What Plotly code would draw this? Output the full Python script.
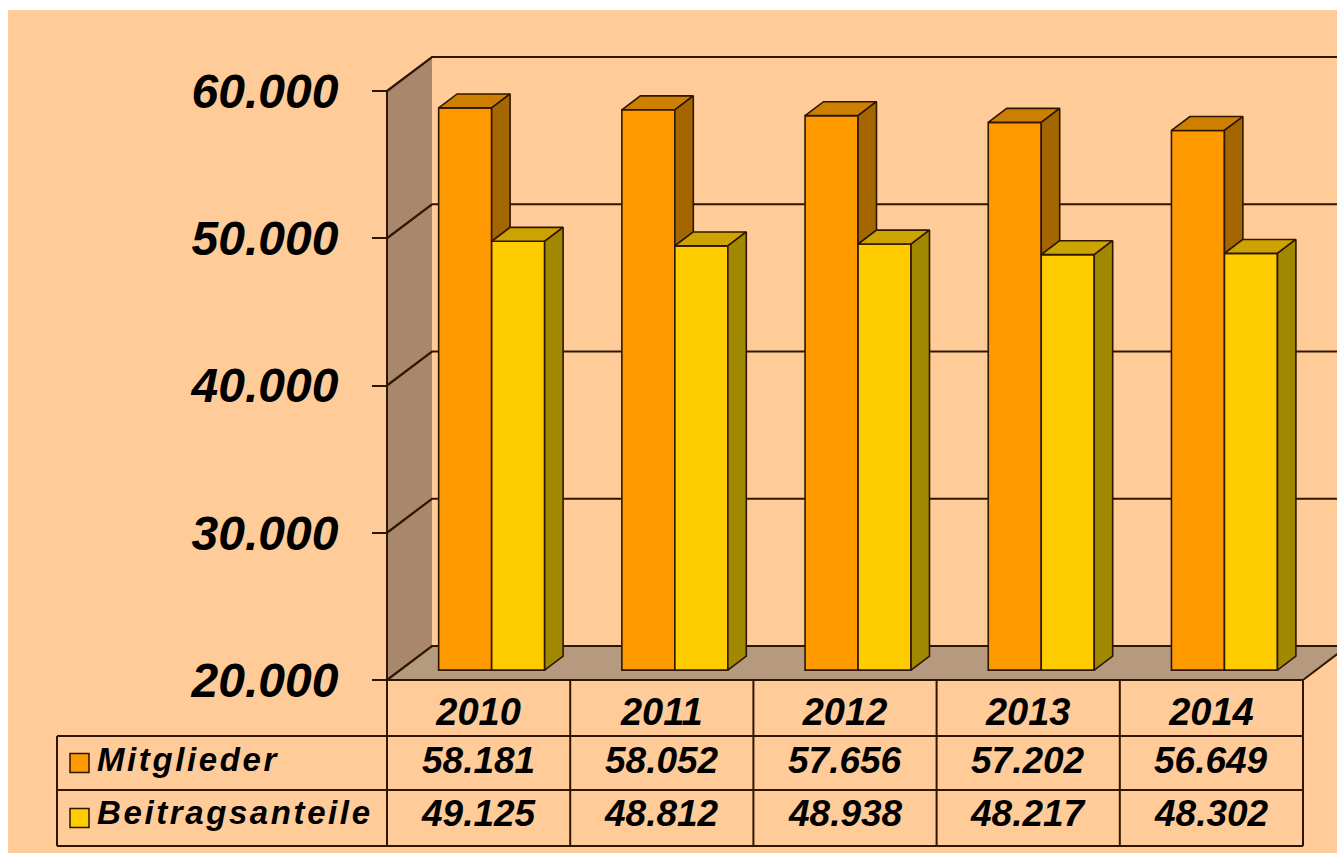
import plotly.graph_objects as go

# ---------------- data ----------------
years = ["2010", "2011", "2012", "2013", "2014"]
mitglieder = [58181, 58052, 57656, 57202, 56649]
beitragsanteile = [49125, 48812, 48938, 48217, 48302]
series_names = ["Mitglieder", "Beitragsanteile"]
y_ticks = [20000, 30000, 40000, 50000, 60000]

# ---------------- styling / geometry ----------------
W, H = 1337, 853
BG = "#FFCC99"
DARK = "#2E1600"
WALL = "#A8876D"
FLOOR = "#B59A80"
FRONT = ["#FF9900", "#FFCC00"]
TOP = ["#CC7F00", "#CCA300"]
SIDE = ["#A36600", "#A08800"]
FONT = "Liberation Sans, Arial, sans-serif"

AX_PX = 387.0          # front value axis (pixels)
COL_PX = 183.2         # width of one category (pixels)
BASE_PX = 680.0        # pixel row of the lowest tick
TOPT_PX = 91.0         # pixel row of the highest tick
vmin, vmax = y_ticks[0], y_ticks[-1]
px_per_val = (BASE_PX - TOPT_PX) / (vmax - vmin)

x_range = [(0 - AX_PX) / COL_PX - 0.5, (W - AX_PX) / COL_PX - 0.5]
y_range = [vmin - (H - BASE_PX) / px_per_val, vmin + BASE_PX / px_per_val]

DXc = 45.0 / COL_PX          # wall depth (category units)
DYv = 34.0 / px_per_val      # wall depth (value units)
D0, D1 = 0.29, 0.70          # bar front / back depth fractions
BAR_W = 53.0 / COL_PX

n = len(years)
x_left = -0.5
x_right = n - 0.5


def proj(x, v, d):
    return x + d * DXc, v + d * DYv


def path(pts):
    return "M " + " L ".join(f"{px},{py}" for px, py in pts) + " Z"


def pxx(p):
    return p / W


def pxy(p):
    return 1 - p / H


shapes = []
# page background (white border top/left)
shapes.append(dict(type="rect", xref="paper", yref="paper", x0=pxx(8), x1=1.0,
                   y0=0, y1=pxy(10), fillcolor=BG, line=dict(width=0), layer="below"))
# left wall
shapes.append(dict(type="path", xref="x", yref="y", layer="below",
                   path=path([proj(x_left, vmin, 0), proj(x_left, vmax, 0),
                              proj(x_left, vmax, 1), proj(x_left, vmin, 1)]),
                   fillcolor=WALL, line=dict(width=0)))
# floor
shapes.append(dict(type="path", xref="x", yref="y", layer="below",
                   path=path([proj(x_left, vmin, 0), proj(x_right, vmin, 0),
                              proj(x_right, vmin, 1), proj(x_left, vmin, 1)]),
                   fillcolor=FLOOR, line=dict(width=0)))
# gridlines (side wall diagonal + back wall)
for t in y_ticks:
    a = proj(x_left, t, 0)
    b = proj(x_left, t, 1)
    c = proj(x_right + 2, t, 1)
    shapes.append(dict(type="path", xref="x", yref="y", layer="below",
                       path=f"M {a[0]},{a[1]} L {b[0]},{b[1]} L {c[0]},{c[1]}",
                       line=dict(color=DARK, width=2.2)))
# floor right edge and front edge
a = proj(x_right, vmin, 0)
b = proj(x_right, vmin, 1)
shapes.append(dict(type="line", xref="x", yref="y", layer="below",
                   x0=a[0], y0=a[1], x1=b[0], y1=b[1], line=dict(color=DARK, width=2)))
shapes.append(dict(type="line", xref="x", yref="y", layer="below",
                   x0=x_left, y0=vmin, x1=x_right, y1=vmin, line=dict(color=DARK, width=2)))
# front value axis line
shapes.append(dict(type="line", xref="x", yref="y", layer="below",
                   x0=x_left, y0=vmin, x1=x_left, y1=vmax, line=dict(color=DARK, width=2)))

# ---------------- data table ----------------
ROW_TOP, ROW1, ROW2, ROW3 = 680, 736, 790, 846
TBL_LEFT = 57
for yy in (ROW1, ROW2, ROW3):
    shapes.append(dict(type="line", xref="paper", yref="paper",
                       x0=pxx(TBL_LEFT), x1=pxx(AX_PX), y0=pxy(yy), y1=pxy(yy),
                       line=dict(color=DARK, width=2)))
    shapes.append(dict(type="line", xref="x", yref="paper",
                       x0=x_left, x1=x_right, y0=pxy(yy), y1=pxy(yy),
                       line=dict(color=DARK, width=2)))
shapes.append(dict(type="line", xref="paper", yref="paper",
                   x0=pxx(TBL_LEFT), x1=pxx(TBL_LEFT), y0=pxy(ROW1), y1=pxy(ROW3),
                   line=dict(color=DARK, width=2)))
for k in range(n + 1):
    shapes.append(dict(type="line", xref="x", yref="paper",
                       x0=k - 0.5, x1=k - 0.5, y0=pxy(ROW_TOP), y1=pxy(ROW3),
                       line=dict(color=DARK, width=2)))
# legend swatches
for j, (r0, r1) in enumerate([(ROW1, ROW2), (ROW2, ROW3)]):
    mid = (r0 + r1) / 2
    shapes.append(dict(type="rect", xref="paper", yref="paper",
                       x0=pxx(70), x1=pxx(89), y0=pxy(mid - 9.5), y1=pxy(mid + 9.5),
                       fillcolor=FRONT[j], line=dict(color=DARK, width=1.5)))


def fmt(v):
    return f"{v:,}".replace(",", ".")


annotations = []
series = [mitglieder, beitragsanteile]
row_mid = [762, 815]
for j, vals in enumerate(series):
    for i, v in enumerate(vals):
        annotations.append(dict(xref="x", yref="paper", x=i, y=pxy(row_mid[j] - 2),
                                text=fmt(v), showarrow=False, xanchor="center", yanchor="middle",
                                font=dict(family=FONT, size=37, color="black",
                                          weight="bold", style="italic")))
    annotations.append(dict(xref="paper", yref="paper", x=pxx(95), y=pxy(row_mid[j] - 3),
                            text=f"<span style='letter-spacing:2.6px'>{series_names[j]}</span>",
                            showarrow=False, xanchor="left", yanchor="middle",
                            font=dict(family=FONT, size=33, color="black",
                                      weight="bold", style="italic")))

# ---------------- bars ----------------
fig = go.Figure()
offsets = [-BAR_W / 2, BAR_W / 2]
for j, vals in enumerate(series):
    xs = [i + offsets[j] + D0 * DXc for i in range(n)]
    fig.add_trace(go.Bar(
        x=xs, y=[v - vmin for v in vals], base=vmin + D0 * DYv, width=BAR_W,
        marker=dict(color=FRONT[j], line=dict(color=DARK, width=1.6)),
        name=series_names[j], hoverinfo="skip", showlegend=False))

# top and side faces
lefts = [-BAR_W, 0.0]
for j, vals in enumerate(series):
    tx, ty, sx, sy = [], [], [], []
    for i, v in enumerate(vals):
        xl = i + lefts[j]
        xr = xl + BAR_W
        pts = [proj(xl, v, D0), proj(xr, v, D0), proj(xr, v, D1), proj(xl, v, D1), proj(xl, v, D0)]
        tx += [p[0] for p in pts] + [None]
        ty += [p[1] for p in pts] + [None]
        # side face: the orange one is hidden below the neighbouring yellow bar top
        low = series[j + 1][i] if j + 1 < len(series) else vmin
        pts = [proj(xr, low, D0), proj(xr, v, D0), proj(xr, v, D1), proj(xr, low, D1), proj(xr, low, D0)]
        sx += [p[0] for p in pts] + [None]
        sy += [p[1] for p in pts] + [None]
    fig.add_trace(go.Scatter(x=tx, y=ty, mode="lines", fill="toself", fillcolor=TOP[j],
                             line=dict(color=DARK, width=1.6), hoverinfo="skip", showlegend=False))
    fig.add_trace(go.Scatter(x=sx, y=sy, mode="lines", fill="toself", fillcolor=SIDE[j],
                             line=dict(color=DARK, width=1.6), hoverinfo="skip", showlegend=False))

fig.update_layout(
    width=W, height=H, margin=dict(l=0, r=0, t=0, b=0),
    paper_bgcolor="white", plot_bgcolor="rgba(0,0,0,0)",
    barmode="overlay", showlegend=False,
    shapes=shapes, annotations=annotations,
    xaxis=dict(range=x_range, domain=[0, 1], anchor="free", position=pxy(BASE_PX),
               tickmode="array", tickvals=list(range(n)), ticktext=years,
               ticks="", showgrid=False, zeroline=False, showline=False,
               ticklabelstandoff=6,
               tickfont=dict(family=FONT, size=38, color="black", weight="bold", style="italic")),
    yaxis=dict(range=y_range, domain=[0, 1], anchor="free", position=pxx(AX_PX),
               tickmode="array", tickvals=y_ticks, ticktext=[fmt(t) for t in y_ticks],
               ticks="outside", ticklen=15, tickwidth=2, tickcolor=DARK,
               showgrid=False, zeroline=False, showline=False,
               ticklabelstandoff=24,
               tickfont=dict(family=FONT, size=48, color="black", weight="bold", style="italic")),
)

fig.write_html("out.html")
